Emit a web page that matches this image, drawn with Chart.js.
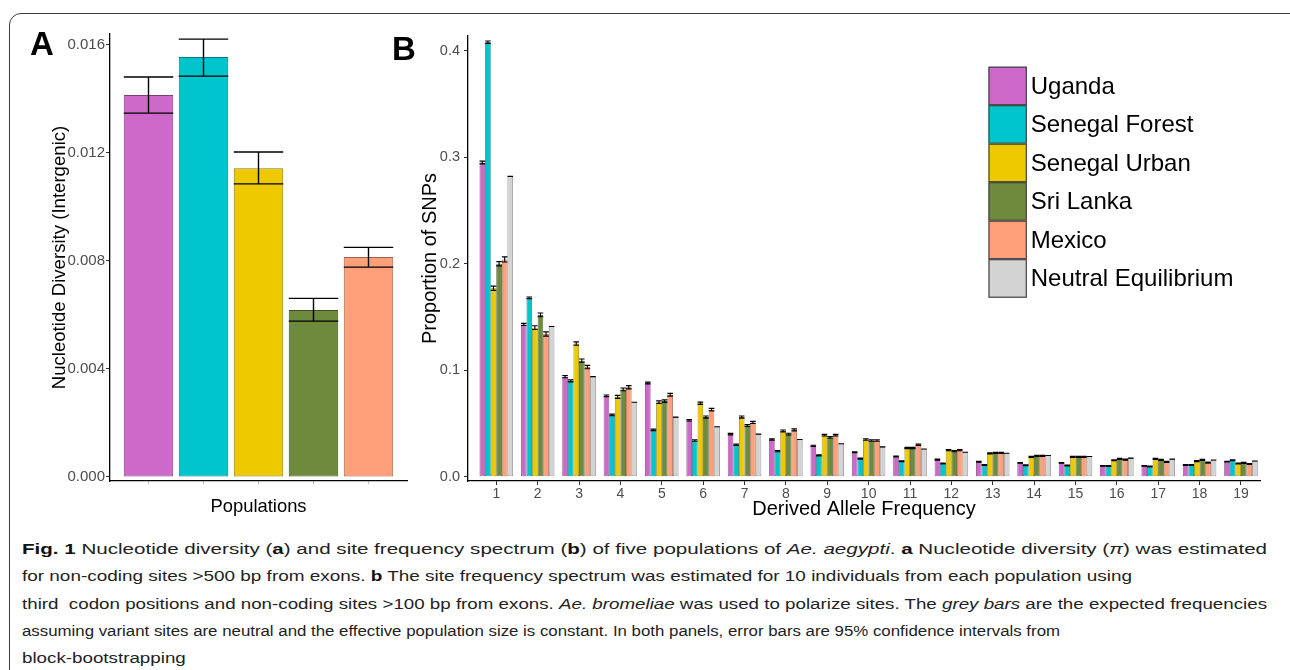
<!DOCTYPE html>
<html>
<head>
<meta charset="utf-8">
<script src="https://cdn.jsdelivr.net/npm/chart.js@4/dist/chart.umd.min.js"></script>
<style>
  html, body { margin:0; padding:0; background:#fff; width:1290px; height:670px; overflow:hidden; }
  body { position:relative; font-family:"Liberation Sans", Arial, sans-serif; }
  #frame { position:absolute; left:9px; top:13px; width:1310px; height:720px; border:1.5px solid #3a3a3a; border-radius:12px; box-sizing:border-box; }
  canvas { position:absolute; }
  #cA { left:0; top:0; }
  #cB { left:400px; top:0; }
  .plab { position:absolute; font-weight:bold; font-size:33px; line-height:33px; color:#000; }
  #caption { position:absolute; left:22px; top:535px; font-family:"Liberation Sans", Arial, sans-serif; font-size:15.5px; line-height:27.3px; color:#222; }
  #caption .ln { display:block; white-space:nowrap; transform-origin:0 50%; width:max-content; }
  #caption b { font-weight:bold; color:#111; }
</style>
</head>
<body>
<div id="frame"></div>
<canvas id="cA" width="420" height="530"></canvas>
<canvas id="cB" width="890" height="530"></canvas>
<div class="plab" style="left:30px;top:27px;">A</div>
<div class="plab" style="left:392px;top:32px;">B</div>
<div id="caption">
  <span class="ln" data-w="1245"><b>Fig. 1</b> Nucleotide diversity (<b>a</b>) and site frequency spectrum (<b>b</b>) of five populations of <i>Ae. aegypti</i>. <b>a</b> Nucleotide diversity (<i>π</i>) was estimated</span>
  <span class="ln" data-w="1110">for non-coding sites &gt;500 bp from exons. <b>b</b> The site frequency spectrum was estimated for 10 individuals from each population using</span>
  <span class="ln" data-w="1245">third &nbsp;codon positions and non-coding sites &gt;100 bp from exons. <i>Ae. bromeliae</i> was used to polarize sites. The <i>grey bars</i> are the expected frequencies</span>
  <span class="ln" data-w="1038">assuming variant sites are neutral and the effective population size is constant. In both panels, error bars are 95% confidence intervals from</span>
  <span class="ln" data-w="0">block-bootstrapping</span>
</div>
<script>
// ---------------- DATA ----------------
const populations = ['Uganda', 'Senegal Forest', 'Senegal Urban', 'Sri Lanka', 'Mexico'];
const piValues = [0.01414, 0.01555, 0.01143, 0.00618, 0.00814];
const piLow    = [0.01347, 0.01484, 0.01085, 0.00577, 0.00777];
const piHigh   = [0.01481, 0.01621, 0.01203, 0.00661, 0.00850];
const piTicks  = [0.000, 0.004, 0.008, 0.012, 0.016];

const sfsBins = [1,2,3,4,5,6,7,8,9,10,11,12,13,14,15,16,17,18,19];
const sfsTicks = [0.0, 0.1, 0.2, 0.3, 0.4];
const seriesNames = ['Uganda', 'Senegal Forest', 'Senegal Urban', 'Sri Lanka', 'Mexico', 'Neutral Equilibrium'];
const uganda   = [0.295,0.143,0.094,0.076,0.088,0.053,0.040,0.035,0.029,0.023,0.019,0.016,0.014,0.013,0.013,0.0102,0.0102,0.011,0.0142];
const forest   = [0.408,0.168,0.090,0.058,0.044,0.034,0.030,0.024,0.020,0.017,0.0146,0.0124,0.011,0.0108,0.0105,0.010,0.0096,0.011,0.0155];
const urban    = [0.177,0.140,0.125,0.075,0.070,0.069,0.056,0.043,0.039,0.035,0.027,0.025,0.022,0.0186,0.0186,0.0155,0.0168,0.0146,0.0124];
const sriLanka = [0.200,0.152,0.109,0.082,0.071,0.056,0.048,0.040,0.037,0.034,0.027,0.024,0.0224,0.0196,0.0186,0.0168,0.0158,0.0158,0.013];
const mexico   = [0.204,0.134,0.103,0.084,0.077,0.063,0.051,0.044,0.039,0.034,0.030,0.025,0.0224,0.0196,0.0186,0.016,0.014,0.0133,0.012];
const neutral  = [0.282,0.141,0.094,0.070,0.056,0.047,0.040,0.035,0.031,0.028,0.026,0.023,0.022,0.020,0.019,0.0175,0.0165,0.0157,0.0148];
const ugandaErr   = [0.0013,0.0010,0.0010,0.0008,0.0008,0.0007,0.0007,0.0006,0.0006,0.0005,0.0005,0.0005,0.0004,0.0004,0.0004,0.0004,0.0004,0.0004,0.0004];
const forestErr   = [0.0011,0.0008,0.0009,0.0008,0.0007,0.0007,0.0006,0.0006,0.0005,0.0005,0.0004,0.0004,0.0004,0.0004,0.0004,0.0004,0.0004,0.0004,0.0004];
const urbanErr    = [0.0020,0.0018,0.0016,0.0014,0.0012,0.0011,0.0010,0.0009,0.0008,0.0007,0.0006,0.0006,0.0005,0.0005,0.0005,0.0005,0.0005,0.0005,0.0005];
const sriLankaErr = [0.0020,0.0018,0.0015,0.0013,0.0012,0.0010,0.0009,0.0008,0.0008,0.0007,0.0006,0.0006,0.0005,0.0005,0.0005,0.0005,0.0005,0.0005,0.0005];
const mexicoErr   = [0.0024,0.0020,0.0016,0.0015,0.0013,0.0012,0.0010,0.0009,0.0008,0.0007,0.0006,0.0006,0.0005,0.0005,0.0005,0.0005,0.0005,0.0005,0.0005];
const neutralErr  = [0,0,0,0,0,0,0,0,0,0,0,0,0,0,0,0,0,0,0];

const colors = ['#CD69C9', '#00C5CD', '#EEC900', '#6E8B3D', '#FFA07A', '#D3D3D3'];
const borders = ['#7a3f78', '#007a80', '#8f7900', '#3f5022', '#9a604a', '#7f7f7f'];

// ---------------- SETUP ----------------
Chart.defaults.font.family = '"Liberation Sans", Arial, sans-serif';
Chart.defaults.color = '#4D4D4D';
Chart.defaults.animation = false;
Chart.defaults.devicePixelRatio = 1;

const errorBarPlugin = {
  id: 'errorBars',
  afterDatasetsDraw(chart) {
    const ctx = chart.ctx;
    const yScale = chart.scales.y;
    chart.data.datasets.forEach((ds, di) => {
      if (!ds.errLow) return;
      const meta = chart.getDatasetMeta(di);
      meta.data.forEach((el, i) => {
        const x = el.x, hw = el.width / 2;
        const yL = yScale.getPixelForValue(ds.errLow[i]);
        const yH = yScale.getPixelForValue(ds.errHigh[i]);
        ctx.save();
        ctx.strokeStyle = '#000';
        ctx.lineWidth = ds.errWidth || 1;
        ctx.beginPath();
        ctx.moveTo(x, yL); ctx.lineTo(x, yH);
        ctx.moveTo(x - hw, yL); ctx.lineTo(x + hw, yL);
        ctx.moveTo(x - hw, yH); ctx.lineTo(x + hw, yH);
        ctx.stroke();
        ctx.restore();
      });
    });
  }
};

// ---------------- PANEL A ----------------
new Chart(document.getElementById('cA'), {
  type: 'bar',
  data: {
    datasets: [{
      data: populations.map((p, i) => ({ x: i + 1, y: piValues[i] })),
      backgroundColor: colors.slice(0, 5),
      borderColor: borders.slice(0, 5),
      borderWidth: 1,
      borderSkipped: false,
      barPercentage: 0.9,
      categoryPercentage: 1.0,
      errLow: piLow,
      errHigh: piHigh,
      errWidth: 1.4
    }]
  },
  options: {
    responsive: false,
    layout: { padding: { top: 34, right: 13, left: 0, bottom: 0 } },
    plugins: { legend: { display: false }, tooltip: { enabled: false } },
    scales: {
      x: {
        type: 'linear', min: 0.3, max: 5.7, offset: false,
        afterBuildTicks: (ax) => { ax.ticks = populations.map((p, i) => ({ value: i + 1 })); },
        afterFit: (ax) => { ax.height = 49; },
        ticks: { callback: () => '', padding: 0 },
        grid: { offset: false, drawOnChartArea: false, drawTicks: true, tickLength: 3, color: '#bbb' },
        border: { display: true, color: '#000', width: 1.3 },
        title: { display: true, text: 'Populations', color: '#000', font: { size: 18.4 }, padding: { top: 0, bottom: 12 } }
      },
      y: {
        min: -0.00015, max: 0.0164,
        afterBuildTicks: (ax) => { ax.ticks = piTicks.map(v => ({ value: v })); },
        afterFit: (ax) => { ax.width = 110; },
        ticks: { callback: (v) => Number(v).toFixed(3), font: { size: 15 }, color: '#4D4D4D', padding: 1 },
        grid: { drawOnChartArea: false, drawTicks: true, tickLength: 4, color: '#333' },
        border: { display: true, color: '#000', width: 1.3 },
        title: { display: true, text: 'Nucleotide Diversity (Intergenic)', color: '#000', font: { size: 18.6 }, padding: { top: 49, bottom: 0 } }
      }
    }
  },
  plugins: [errorBarPlugin]
});

// ---------------- PANEL B ----------------
const sfsSeries = [uganda, forest, urban, sriLanka, mexico, neutral];
const sfsErr = [ugandaErr, forestErr, urbanErr, sriLankaErr, mexicoErr, neutralErr];

const legendPlugin = {
  id: 'customLegend',
  afterDraw(chart) {
    const ctx = chart.ctx;
    const x0 = 588.5, y0 = 66.7, w = 38.3, h = 38.5;
    ctx.save();
    chart.data.datasets.forEach((ds, i) => {
      const y = y0 + i * h;
      ctx.fillStyle = ds.backgroundColor;
      ctx.fillRect(x0, y, w, h);
      ctx.strokeStyle = '#444';
      ctx.lineWidth = 1.2;
      ctx.strokeRect(x0 + 0.5, y + 0.5, w - 1, h - 1);
      ctx.fillStyle = '#000';
      ctx.font = '24px "Liberation Sans", Arial, sans-serif';
      ctx.textBaseline = 'middle';
      ctx.fillText(ds.label, 630.7, y + h / 2 + 1);
    });
    ctx.restore();
  }
};

new Chart(document.getElementById('cB'), {
  type: 'bar',
  data: {
    datasets: seriesNames.map((name, s) => ({
      label: name,
      data: sfsBins.map((b, i) => ({ x: b, y: sfsSeries[s][i] })),
      backgroundColor: colors[s],
      borderColor: borders[s],
      borderWidth: 0.8,
      borderSkipped: false,
      barPercentage: 1.0,
      categoryPercentage: 0.81,
      errLow: sfsSeries[s].map((v, i) => v - sfsErr[s][i]),
      errHigh: sfsSeries[s].map((v, i) => v + sfsErr[s][i]),
      errWidth: 1.1
    }))
  },
  options: {
    responsive: false,
    layout: { padding: { top: 36, right: 30, left: 0, bottom: 0 } },
    plugins: { legend: { display: false }, tooltip: { enabled: false } },
    scales: {
      x: {
        type: 'linear', min: 0.316, max: 19.46, offset: false,
        afterBuildTicks: (ax) => { ax.ticks = sfsBins.map(v => ({ value: v })); },
        afterFit: (ax) => { ax.height = 49; },
        ticks: { callback: (v) => String(v), font: { size: 14 }, color: '#4D4D4D', padding: 1, maxRotation: 0, autoSkip: false },
        grid: { offset: false, drawOnChartArea: false, drawTicks: true, tickLength: 4, color: '#333' },
        border: { display: true, color: '#000', width: 1.3 },
        title: { display: true, text: 'Derived Allele Frequency', color: '#000', font: { size: 20 }, padding: { top: 0, bottom: 9 } }
      },
      y: {
        min: -0.004, max: 0.4138,
        afterBuildTicks: (ax) => { ax.ticks = sfsTicks.map(v => ({ value: v })); },
        afterFit: (ax) => { ax.width = 68; },
        ticks: { callback: (v) => Number(v).toFixed(1), font: { size: 14.5 }, color: '#4D4D4D', padding: 4 },
        grid: { drawOnChartArea: false, drawTicks: true, tickLength: 4, color: '#333' },
        border: { display: true, color: '#000', width: 1.3 },
        title: { display: true, text: 'Proportion of SNPs', color: '#000', font: { size: 20 }, padding: { top: 18, bottom: 0 } }
      }
    }
  },
  plugins: [errorBarPlugin, legendPlugin]
});

// ---------------- CAPTION FIT (lines 1-4 stretched to their reference widths; last line uses the mean stretch) ----------------
(function () {
  const lines = Array.from(document.querySelectorAll('#caption .ln'));
  const scales = [];
  lines.forEach(el => {
    const target = parseFloat(el.dataset.w);
    const w = el.getBoundingClientRect().width;
    if (target > 0 && w > 0) {
      const k = target / w;
      scales.push(k);
      el.style.transform = 'scaleX(' + k.toFixed(4) + ')';
    }
  });
  const mean = scales.reduce((a, b) => a + b, 0) / (scales.length || 1);
  lines.forEach(el => {
    if (parseFloat(el.dataset.w) === 0) el.style.transform = 'scaleX(' + mean.toFixed(4) + ')';
  });
})();
</script>
</body>
</html>
